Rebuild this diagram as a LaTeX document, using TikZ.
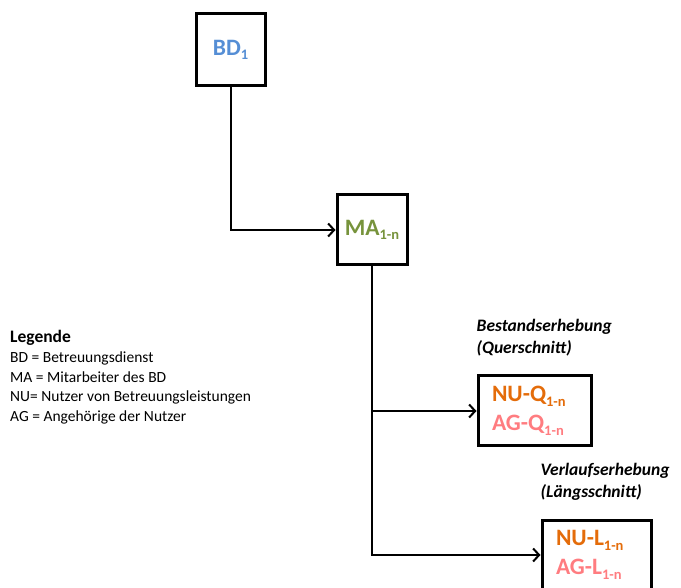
\documentclass[tikz,border=0pt]{standalone}
\usepackage{fontspec}
\setmainfont{Carlito}
\usetikzlibrary{positioning, arrows.meta}
\definecolor{bdblau}{HTML}{558ED5}
\definecolor{magruen}{HTML}{77933C}
\definecolor{nuorange}{HTML}{E46C0A}
\definecolor{agrosa}{HTML}{FF7C80}
\newcommand{\tief}[1]{\raisebox{-0.4ex}{\fontsize{14.5}{14.5}\selectfont #1}}

\begin{document}
\begin{tikzpicture}[x=1pt,y=-1pt,
    kasten/.style={draw, line width=3pt, align=left, inner sep=0pt,
      font=\bfseries\fontsize{23.5}{29}\selectfont},
    erhebung/.style={kasten, inner xsep=14pt, minimum height=70pt},
    etikett/.style={align=left, inner sep=0pt,
      font=\bfseries\itshape\fontsize{17.5}{22}\selectfont},
    pfeil/.style={line width=2pt, -{Straight Barb[length=6pt,width=13pt]}}]
\useasboundingbox (0,0) rectangle (681,588);

% Kaesten
\node[kasten, minimum width=69pt, minimum height=72pt] (bd) at (230.5,50)
  {\textcolor{bdblau}{BD\tief{1}}};
\node[kasten, minimum width=70pt, minimum height=70pt] (ma) at (372,230)
  {\textcolor{magruen}{MA\tief{1-n}}};
\node[erhebung, text width=85pt] (nuq) at (534.5,411)
  {\textcolor{nuorange}{NU-Q\tief{1-n}}\\ \textcolor{agrosa}{AG-Q\tief{1-n}}};
\node[erhebung, text width=81pt] (nul) at (596.5,555)
  {\textcolor{nuorange}{NU-L\tief{1-n}}\\ \textcolor{agrosa}{AG-L\tief{1-n}}};

% Beschriftungen
\node[etikett, above right=18pt and 0pt of nuq.north west] (querschnitt)
  {Bestandserhebung\\ (Querschnitt)};
\node[etikett, above right=18pt and 0pt of nul.north west] (laengsschnitt)
  {Verlaufserhebung\\ (Längsschnitt)};

% Legende
\node[anchor=north west, align=left, inner sep=0pt,
  font=\fontsize{15.5}{19.8}\selectfont] (legende) at (10,330)
  {{\bfseries\fontsize{17.5}{19.8}\selectfont Legende}\\
   BD = Betreuungsdienst\\
   MA = Mitarbeiter des BD\\
   NU= Nutzer von Betreuungsleistungen\\
   AG = Angehörige der Nutzer};

% Verbindungen
\draw[pfeil] (bd.south) |- (ma.west);
\coordinate (abzw) at (ma.south |- nuq.west);
\draw[pfeil] (ma.south) |- (nul.west);
\draw[pfeil] (abzw) -- (nuq.west);
\end{tikzpicture}
\end{document}
